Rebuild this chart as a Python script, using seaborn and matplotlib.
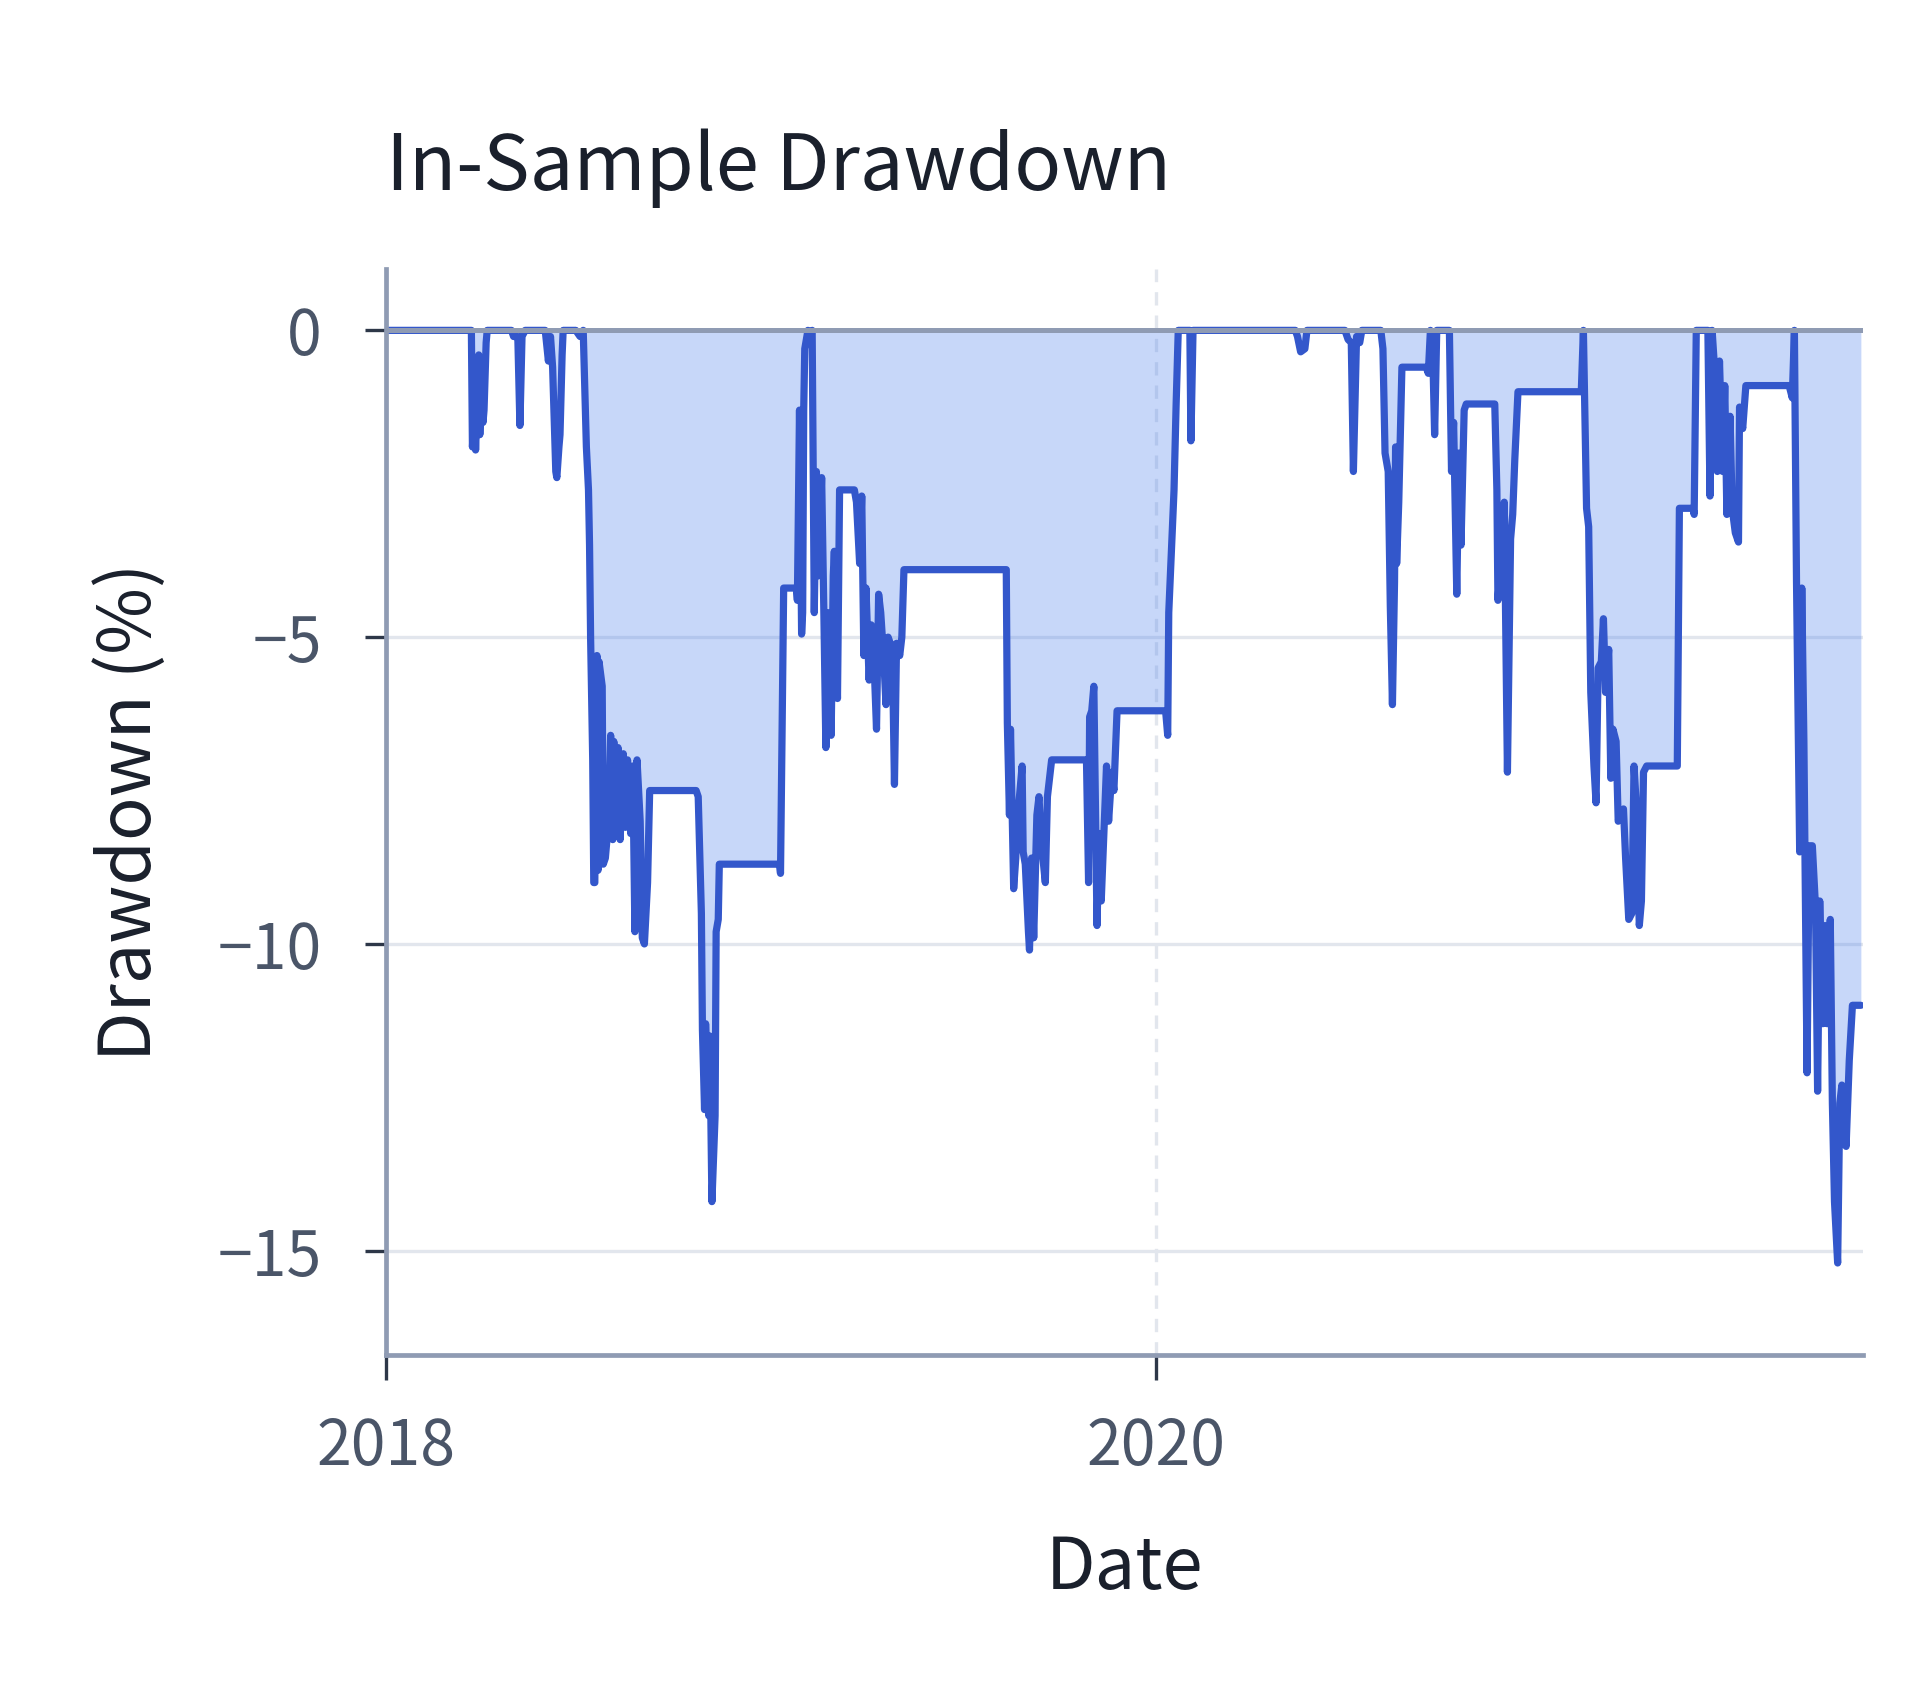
import numpy as np
import pandas as pd
import matplotlib
matplotlib.use("Agg")
import matplotlib.pyplot as plt
import seaborn as sns

# ---------------- data ----------------
start_date = "2018-01-01"
end_offset_days = 1400
# calendar days since start_date
day_offset = [
    0, 81, 82, 84, 85, 88, 89, 91, 92, 93, 95, 96,
    119, 121, 125, 127, 129, 132,
    151, 154, 156, 158, 161, 162, 164, 165, 167, 168,
    180, 184, 187, 190, 192, 193, 194, 196, 197,
    198, 199, 200, 201, 202, 205, 206, 208, 211, 213, 215, 216, 219, 220,
    222, 225, 227, 229, 232, 234, 236, 238, 241, 243, 245, 248, 250, 294,
    296, 299, 300, 302, 303, 306, 307, 309, 312, 313, 315, 316, 373, 374,
    377, 389, 390, 392, 394, 395, 396, 397, 400, 402, 404, 406, 408, 410,
    413, 415, 417, 420, 422, 424, 425, 428, 430, 444, 446, 449, 451, 453,
    455, 458, 460, 462, 465, 467, 469, 472, 474, 476, 480, 482, 484, 487,
    489, 491, 588,
    589, 591, 592, 595, 597, 599, 603, 604, 606, 609, 610, 612, 614, 617,
    619, 621, 625, 627, 631, 664, 666, 667, 669, 671, 674, 676, 678, 681,
    683, 685, 688, 690, 693, 739, 741, 742, 744, 747, 749, 751, 762, 763, 765,
    862, 864, 867, 871, 873, 909, 912, 915, 917, 920, 923, 925,
    943, 945, 947, 950, 952, 954, 956, 957, 958, 960, 963, 986, 988, 990,
    992, 994, 996, 1008, 1010, 1012, 1015, 1017, 1019, 1022, 1024, 1051,
    1053, 1054, 1058, 1060, 1063, 1066, 1068, 1070, 1073, 1133, 1135, 1138,
    1140, 1142, 1145, 1147, 1149, 1152, 1154, 1156, 1159, 1161, 1163, 1166,
    1168, 1170, 1173, 1175, 1178, 1181, 1183, 1185, 1188, 1190, 1192, 1195,
    1224, 1226, 1239, 1240, 1242, 1253, 1255, 1257, 1260, 1262, 1264, 1267,
    1269, 1271, 1274, 1276, 1279, 1282, 1283, 1286, 1289, 1330, 1333, 1335,
    1337, 1340, 1342, 1344, 1347, 1349, 1352, 1355, 1357, 1359, 1362, 1364,
    1366, 1369, 1371, 1373, 1376, 1378, 1380, 1384, 1387, 1390, 1398,
]
drawdown_pct = [
    0.0, 0.0, -1.9, -1.2, -1.95, -0.4, -1.7, -0.6, -1.5, -1.3, -0.2, 0.0,
    0.0, -0.1, -0.1, -1.55, -0.1, 0.0,
    0.0, -0.5, -0.1, -0.6, -2.3, -2.4, -1.9, -1.7, -0.4, 0.0,
    0.0, -0.1, 0.0, -1.9, -2.6, -3.5, -5.0, -7.0, -9.0,
    -9.0, -6.5, -5.3, -8.8, -5.4, -5.8, -8.7, -8.6, -8.0, -6.6, -8.3, -6.7, -8.2, -6.8,
    -8.3, -6.9, -8.1, -7.0, -8.2, -7.1, -9.8, -7.0, -8.0, -9.9, -10.0, -9.0, -7.5, -7.5,
    -7.6, -9.5, -11.4, -12.7, -11.3, -12.8, -11.5, -14.2, -12.8, -9.8, -9.6, -8.7, -8.7, -8.85,
    -4.2, -4.2, -4.4, -1.3, -4.95, -4.6, -1.3, -0.3, 0.0, -0.05, 0.0, -4.6, -2.3, -4.0,
    -2.4, -4.5, -6.8, -4.6, -6.6, -4.0, -3.6, -6.0, -2.6, -2.6, -2.8, -3.8, -2.7, -5.3,
    -4.2, -5.7, -4.8, -5.1, -6.5, -4.3, -4.6, -5.4, -6.1, -5.0, -5.2, -7.4, -5.1, -5.3,
    -5.0, -3.9, -3.9,
    -6.4, -7.9, -6.5, -9.1, -8.6, -7.9, -7.1, -8.5, -8.7, -9.8, -10.1, -8.6, -9.9, -7.9,
    -7.6, -8.3, -9.0, -7.6, -7.0, -7.0, -9.0, -6.3, -6.2, -5.8, -9.7, -8.2, -9.3, -8.0,
    -7.1, -8.0, -7.2, -7.5, -6.2, -6.2, -6.6, -4.6, -3.8, -2.6, -1.2, 0.0, 0.0, -1.8, 0.0,
    0.0, -0.1, -0.35, -0.3, 0.0, 0.0, -0.15, -0.2, -2.3, -0.1, -0.2, 0.0,
    0.0, -0.3, -2.0, -2.3, -4.5, -6.1, -4.1, -1.9, -3.8, -2.8, -0.6, -0.6, -0.7, 0.0,
    -0.2, -1.7, 0.0, 0.0, -2.3, -1.5, -4.3, -2.0, -3.5, -1.3, -1.2, -1.2,
    -2.6, -4.4, -3.4, -2.8, -7.2, -3.4, -3.0, -2.1, -1.0, -1.0, 0.0, -2.9,
    -3.2, -5.9, -7.1, -7.7, -5.5, -5.4, -4.7, -5.9, -5.2, -7.3, -6.5, -6.7,
    -8.0, -7.9, -7.8, -8.6, -9.6, -9.5, -7.1, -7.7, -9.7, -9.3, -7.2, -7.1,
    -7.1, -2.9, -2.9, -3.0, 0.0, 0.0, -2.7, 0.0, -0.8, -2.3, -0.5, -2.3,
    -0.9, -3.0, -1.4, -2.9, -3.3, -3.45, -1.25, -1.6, -0.9, -0.9, -1.1, 0.0,
    -4.1, -8.5, -4.2, -6.7, -12.1, -8.4, -8.4, -9.4, -12.4, -9.3, -11.3, -9.7,
    -11.3, -9.6, -12.6, -14.2, -15.2, -12.6, -12.3, -13.3, -11.9, -11.0, -11.0,
]
x_tick_dates = ["2018-01-01", "2020-01-01"]
x_tick_labels = ["2018", "2020"]
y_ticks = [0, -5, -10, -15]
title_text = "In-Sample Drawdown"
x_label = "Date"
y_label = "Drawdown (%)"

# ---------------- styling ----------------
LINE = "#3357cb"
FILL = "#487dee"
SPINE = "#8f9bb3"
GRID = "#e2e6ed"
TICK = "#2d3748"
TICKLABEL = "#4a5568"
TEXT = "#1a202c"

sns.set_theme(style="white")
plt.rcParams["font.family"] = ["Noto Sans CJK SC", "DejaVu Sans"]
plt.rcParams["axes.unicode_minus"] = True

t0 = pd.Timestamp(start_date)
df = pd.DataFrame({
    "Date": t0 + pd.to_timedelta(day_offset, unit="D"),
    "Drawdown": drawdown_pct,
})

fig = plt.figure(figsize=(19.2, 16.94), dpi=100)
ax = fig.add_axes([0.2010, 0.2001, 0.7693, 0.6411])

ax.fill_between(df["Date"], df["Drawdown"], 0, color=FILL, alpha=0.3,
                linewidth=0, zorder=1)
sns.lineplot(data=df, x="Date", y="Drawdown", ax=ax, color=LINE,
             linewidth=5.2, zorder=2, estimator=None, sort=False)
ax.axhline(0, color=SPINE, linewidth=3.6, zorder=3)

ax.set_xlim(t0, t0 + pd.Timedelta(days=end_offset_days))
ax.set_ylim(-16.7, 1.0)
ax.set_xticks(pd.to_datetime(x_tick_dates))
ax.set_xticklabels(x_tick_labels)
ax.set_yticks(y_ticks)
ax.set_yticklabels([("\u2212" + str(-v)) if v < 0 else str(v) for v in y_ticks])

ax.yaxis.grid(True, color=GRID, linewidth=2.4, zorder=0.5)
ax.xaxis.grid(True, color=GRID, linewidth=2.4, linestyle=(0, (4, 3)), zorder=0.5)
ax.set_axisbelow(True)

for s in ["top", "right"]:
    ax.spines[s].set_visible(False)
for s in ["left", "bottom"]:
    ax.spines[s].set_color(SPINE)
    ax.spines[s].set_linewidth(3.4)

ax.tick_params(axis="y", which="major", length=15, width=2.4, color=TICK,
               pad=31, labelsize=45, labelcolor=TICKLABEL, left=True)
ax.tick_params(axis="x", which="major", length=18, width=2.4, color=TICK,
               pad=25, labelsize=45, labelcolor=TICKLABEL, bottom=True)

ax.set_title(title_text, loc="left", fontsize=56, color=TEXT, pad=57)
ax.set_xlabel(x_label, fontsize=52, color=TEXT, labelpad=38)
ax.set_ylabel(y_label, fontsize=52, color=TEXT)
ax.yaxis.set_label_coords(-0.148, 0.5)

fig.savefig("out.png", dpi=100, facecolor="white")
